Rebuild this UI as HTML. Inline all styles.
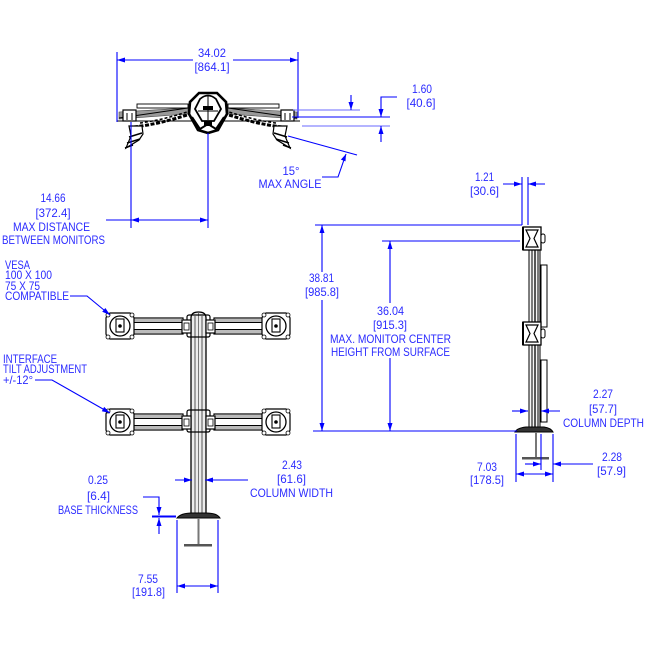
<!DOCTYPE html>
<html><head><meta charset="utf-8"><style>
html,body{margin:0;padding:0;background:#fff;}
svg{display:block;}
text{font-family:"Liberation Sans",sans-serif;font-size:12px;fill:#2b2bff;}
</style></head><body>
<svg width="646" height="646" viewBox="0 0 646 646" xmlns="http://www.w3.org/2000/svg">
<defs>
<g id="head">
 <path d="M-10,-13 h20 l3,2 l1,3 v16 l-1,3 l-3,2 h-20 l-3,-2 l-1,-3 v-16 l1,-3 z" fill="#fff" stroke="#000" stroke-width="1.2"/>
 <circle cx="-12" cy="-11" r="2" fill="#fff" stroke="#000" stroke-width="0.8"/>
 <circle cx="12" cy="-11" r="2" fill="#fff" stroke="#000" stroke-width="0.8"/>
 <circle cx="-12" cy="11" r="2" fill="#fff" stroke="#000" stroke-width="0.8"/>
 <circle cx="12" cy="11" r="2" fill="#fff" stroke="#000" stroke-width="0.8"/>
 <circle r="10" fill="#fff" stroke="#000" stroke-width="1.3"/>
 <rect x="-4" y="-7" width="8" height="13" fill="#fff" stroke="#000" stroke-width="1.1"/>
 <circle r="1.8" fill="#000"/>
</g>
<g id="sidehead">
 <rect x="0" y="0" width="18" height="23" fill="#fff" stroke="#000" stroke-width="1.3"/>
 <path d="M3,3 L15,3 L11,11.5 L15,20 L3,20 L7,11.5 Z" fill="#fff" stroke="#000" stroke-width="1.2"/>
 <rect x="18" y="7" width="4" height="9" rx="2" fill="#fff" stroke="#000"/>
 <line x1="0" y1="0" x2="0" y2="23" stroke="#000" stroke-width="2"/>
</g>
</defs>

<!-- ================= TOP VIEW ================= -->
<g stroke="#000" fill="none">
 <line x1="117" y1="121" x2="300" y2="121" stroke-width="1"/>
 <!-- left monitor -->
 <polygon points="119,112 188,108 188,114 119,119" fill="#999" stroke="#444" stroke-width="0.6"/>
 <rect x="137" y="104" width="51" height="4" fill="#fff" stroke-width="0.9"/>
 <line x1="119" y1="118" x2="188" y2="108" stroke-width="1"/>
 <rect x="123" y="110" width="13" height="11" fill="#fff" stroke-width="1.2"/>
 <line x1="127" y1="113" x2="127" y2="120"/><line x1="132" y1="113" x2="132" y2="120"/>
 <!-- right monitor -->
 <polygon points="297,112 228,108 228,114 297,119" fill="#999" stroke="#444" stroke-width="0.6"/>
 <rect x="228" y="104" width="51" height="4" fill="#fff" stroke-width="0.9"/>
 <line x1="297" y1="118" x2="228" y2="108" stroke-width="1"/>
 <rect x="281" y="110" width="13" height="11" fill="#fff" stroke-width="1.2"/>
 <line x1="285" y1="113" x2="285" y2="120"/><line x1="290" y1="113" x2="290" y2="120"/>
 <!-- dashed arms -->
 <path d="M134,127 Q160,124 190,114" stroke-width="3" stroke-dasharray="4 1.6"/>
 <path d="M140,123 Q163,120 190,111" stroke-width="1.5" stroke-dasharray="3 2"/>
 <path d="M282,127 Q256,124 226,114" stroke-width="3" stroke-dasharray="4 1.6"/>
 <path d="M276,123 Q253,120 226,111" stroke-width="1.5" stroke-dasharray="3 2"/>
 <!-- lower brackets -->
 <polygon points="129,126 142,126 143,134 139,140 126,148 131,136" fill="#fff" stroke-width="1.2"/>
 <path d="M129,137 L142,133 M127,143 L140,139 M125,148 L133,145" stroke-width="1.5"/>
 <polygon points="287,126 274,126 273,134 277,140 290,148 285,136" fill="#fff" stroke-width="1.2"/>
 <path d="M287,137 L274,133 M289,143 L276,139 M291,148 L283,145" stroke-width="1.5"/>
 <!-- hub -->
 <polygon points="199,93 217,93 226,102 227,114 218,130 208,133 198,130 189,114 190,102" fill="#fff" stroke-width="2.6"/>
 <path d="M200,99 Q208,92 216,99 L221,109 L214,121 H202 L195,109 Z" fill="#fff" stroke-width="1.8"/>
 <rect x="203" y="106" width="10" height="4" fill="#000" stroke="none"/>
 <path d="M208,96 V120 M198,111 H218" stroke-width="1"/>
 <path d="M192,117 L200,129 L208,124 L216,129 L224,117" stroke-width="2"/>
 <rect x="204" y="121" width="8" height="5" fill="#000" stroke="none"/>
</g>

<!-- top view dims -->
<g stroke="#0000ff" stroke-width="1.1" fill="none">
 <line x1="117" y1="52" x2="117" y2="122"/>
 <line x1="298" y1="52" x2="298" y2="118"/>
 <line x1="117" y1="60" x2="193" y2="60"/>
 <line x1="233" y1="60" x2="298" y2="60"/>
 <line x1="293" y1="110" x2="360" y2="110" stroke="#6a6aff"/>
 <line x1="292" y1="117" x2="390" y2="117"/>
 <line x1="302" y1="126" x2="390" y2="126" stroke="#6a6aff"/>
 <line x1="351" y1="95" x2="351" y2="110"/>
 <polyline points="397,97 381,97 381,117"/>
 <line x1="381" y1="126" x2="381" y2="142"/>
 <line x1="288" y1="136" x2="357" y2="155"/>
 <polyline points="346,154 338,177 322,177"/>
 <line x1="131" y1="122" x2="131" y2="228"/>
 <line x1="208" y1="133" x2="208" y2="228"/>
 <line x1="106" y1="220" x2="208" y2="220"/>
</g>
<g fill="#0000ff">
 <polygon points="117,60 125,57.5 125,62.5"/>
 <polygon points="298,60 290,57.5 290,62.5"/>
 <polygon points="351,110 348.5,102 353.5,102"/>
 <polygon points="381,117 378.5,109 383.5,109"/>
 <polygon points="381,126 378.5,134 383.5,134"/>
 <polygon points="346,154 345.5,161.4 340.9,159.6"/>
 <polygon points="131,220 139,217.5 139,222.5"/>
 <polygon points="208,220 200,217.5 200,222.5"/>
</g>
<text x="212" y="57" text-anchor="middle" textLength="28" lengthAdjust="spacingAndGlyphs">34.02</text>
<text x="212" y="71" text-anchor="middle" textLength="35" lengthAdjust="spacingAndGlyphs">[864.1]</text>
<text x="422" y="93" text-anchor="middle" textLength="20" lengthAdjust="spacingAndGlyphs">1.60</text>
<text x="421" y="107" text-anchor="middle" textLength="29" lengthAdjust="spacingAndGlyphs">[40.6]</text>
<text x="291" y="175" text-anchor="middle" textLength="17" lengthAdjust="spacingAndGlyphs">15°</text>
<text x="290" y="188" text-anchor="middle" textLength="63" lengthAdjust="spacingAndGlyphs">MAX ANGLE</text>
<text x="53" y="202" text-anchor="middle" textLength="25" lengthAdjust="spacingAndGlyphs">14.66</text>
<text x="53" y="217" text-anchor="middle" textLength="35" lengthAdjust="spacingAndGlyphs">[372.4]</text>
<text x="13" y="231" textLength="77" lengthAdjust="spacingAndGlyphs">MAX DISTANCE</text>
<text x="2" y="244" textLength="103" lengthAdjust="spacingAndGlyphs">BETWEEN MONITORS</text>

<!-- ================= FRONT VIEW ================= -->
<g stroke="#000" stroke-width="1">
 <!-- column -->
 <path d="M191,318 Q191,312 198.5,312 Q206,312 206,318 V515 H191 Z" fill="#ececec" stroke-width="1.3"/>
 <line x1="195" y1="316" x2="195" y2="514" stroke="#555"/>
 <line x1="198.5" y1="313" x2="198.5" y2="514" stroke="#777"/>
 <line x1="202" y1="316" x2="202" y2="514" stroke="#555"/>
 <!-- collars -->
 <rect x="187" y="315" width="23" height="22" rx="2" fill="none" stroke-width="1.2"/>
 <rect x="187" y="410" width="23" height="22" rx="2" fill="none" stroke-width="1.2"/>
</g>
<g id="armrowU" stroke="#000">
 <!-- left arm -->
 <rect x="132" y="318" width="51" height="16" fill="#fff" stroke-width="1.2"/>
 <rect x="132" y="319" width="51" height="3" fill="#bbb" stroke="none"/>
 <rect x="132" y="330" width="51" height="3" fill="#bbb" stroke="none"/>
 <line x1="132" y1="322.5" x2="183" y2="322.5"/>
 <line x1="132" y1="329.5" x2="183" y2="329.5"/>
 <rect x="182" y="320" width="9" height="13" fill="#fff" stroke-width="1.2"/>
 <rect x="184" y="323" width="5" height="7" fill="#fff" stroke-width="0.8"/>
 <!-- right arm -->
 <rect x="214" y="318" width="51" height="16" fill="#fff" stroke-width="1.2"/>
 <rect x="214" y="319" width="51" height="3" fill="#bbb" stroke="none"/>
 <rect x="214" y="330" width="51" height="3" fill="#bbb" stroke="none"/>
 <line x1="214" y1="322.5" x2="265" y2="322.5"/>
 <line x1="214" y1="329.5" x2="265" y2="329.5"/>
 <rect x="206" y="320" width="9" height="13" fill="#fff" stroke-width="1.2"/>
 <rect x="208" y="323" width="5" height="7" fill="#fff" stroke-width="0.8"/>
</g>
<use href="#armrowU" transform="translate(0,96)"/>
<use href="#head" x="120" y="326"/>
<use href="#head" x="276" y="326"/>
<use href="#head" x="120" y="422"/>
<use href="#head" x="276" y="422"/>
<!-- base -->
<path d="M177,518 Q181,513 192,513 H206 Q217,513 220,518 Z" fill="#333" stroke="#000"/>
<line x1="198.5" y1="518" x2="198.5" y2="545" stroke="#777" stroke-width="2"/>
<rect x="184" y="544" width="28" height="2.5" fill="#555"/>

<!-- front dims -->
<g stroke="#0000ff" stroke-width="1.1" fill="none">
 <polyline points="70,296 87,296 110,315"/>
 <polyline points="35,380 52,380 110,413"/>
 <line x1="175" y1="480" x2="192" y2="480"/>
 <line x1="248" y1="480" x2="205" y2="480"/>
 <polyline points="143,497 159,497 159,515"/>
 <line x1="152" y1="516.5" x2="176" y2="516.5" stroke-width="2"/>
 <line x1="159" y1="518" x2="159" y2="534"/>
 <line x1="177" y1="520" x2="177" y2="593"/>
 <line x1="218" y1="520" x2="218" y2="593"/>
 <line x1="177" y1="586" x2="218" y2="586"/>
</g>
<g fill="#0000ff">
 <polygon points="110,315 102.2,311.8 105.4,308"/>
 <polygon points="110,413 101.8,411.3 104.2,406.9"/>
 <polygon points="192,480 184,477.5 184,482.5"/>
 <polygon points="205,480 213,477.5 213,482.5"/>
 <polygon points="159,515 156.5,507 161.5,507"/>
 <polygon points="159,518 156.5,526 161.5,526"/>
 <polygon points="177,586 185,583.5 185,588.5"/>
 <polygon points="218,586 210,583.5 210,588.5"/>
</g>
<text x="5" y="269" textLength="25" lengthAdjust="spacingAndGlyphs">VESA</text>
<text x="5" y="279" textLength="47" lengthAdjust="spacingAndGlyphs">100 X 100</text>
<text x="5" y="290" textLength="35" lengthAdjust="spacingAndGlyphs">75 X 75</text>
<text x="5" y="300" textLength="64" lengthAdjust="spacingAndGlyphs">COMPATIBLE</text>
<text x="3" y="363" textLength="54" lengthAdjust="spacingAndGlyphs">INTERFACE</text>
<text x="3" y="373" textLength="84" lengthAdjust="spacingAndGlyphs">TILT ADJUSTMENT</text>
<text x="3" y="384" textLength="30" lengthAdjust="spacingAndGlyphs">+/-12°</text>
<text x="292" y="469" text-anchor="middle" textLength="20" lengthAdjust="spacingAndGlyphs">2.43</text>
<text x="291.5" y="483" text-anchor="middle" textLength="29" lengthAdjust="spacingAndGlyphs">[61.6]</text>
<text x="291.5" y="497" text-anchor="middle" textLength="83" lengthAdjust="spacingAndGlyphs">COLUMN WIDTH</text>
<text x="98" y="484" text-anchor="middle" textLength="20" lengthAdjust="spacingAndGlyphs">0.25</text>
<text x="98.5" y="500" text-anchor="middle" textLength="23" lengthAdjust="spacingAndGlyphs">[6.4]</text>
<text x="98" y="514" text-anchor="middle" textLength="80" lengthAdjust="spacingAndGlyphs">BASE THICKNESS</text>
<text x="148" y="583" text-anchor="middle" textLength="20" lengthAdjust="spacingAndGlyphs">7.55</text>
<text x="148.5" y="596" text-anchor="middle" textLength="33" lengthAdjust="spacingAndGlyphs">[191.8]</text>

<!-- ================= SIDE VIEW ================= -->
<g stroke="#000" fill="none">
 <rect x="529" y="228" width="11" height="200" fill="#f4f4f4" stroke-width="1"/>
 <line x1="532" y1="250" x2="532" y2="428"/>
 <line x1="535" y1="250" x2="535" y2="428" stroke-width="1.3"/>
 <line x1="538" y1="250" x2="538" y2="428"/>
 <rect x="541" y="265" width="6" height="62" fill="#fff" stroke-width="1"/>
 <rect x="541" y="360" width="6" height="62" fill="#fff" stroke-width="1"/>
</g>
<use href="#sidehead" x="523" y="227"/>
<use href="#sidehead" x="523" y="322"/>
<path d="M515,432 Q517,428 526,427 H544 Q551,428 553,432 Z" fill="#333" stroke="#000"/>
<line x1="536" y1="432" x2="536" y2="458" stroke="#777" stroke-width="2"/>
<rect x="522" y="457" width="27" height="2.5" fill="#555"/>

<g stroke="#0000ff" stroke-width="1.1" fill="none">
 <line x1="522" y1="177" x2="522" y2="225"/>
 <line x1="528" y1="177" x2="528" y2="225"/>
 <line x1="503" y1="184" x2="522" y2="184"/>
 <line x1="545" y1="184" x2="528" y2="184"/>
 <line x1="315" y1="225" x2="522" y2="225"/>
 <line x1="322" y1="225" x2="322" y2="272"/>
 <line x1="322" y1="300" x2="322" y2="431"/>
 <line x1="382" y1="241" x2="520" y2="241"/>
 <line x1="390" y1="241" x2="390" y2="303"/>
 <line x1="390" y1="358" x2="390" y2="431"/>
 <line x1="313" y1="431" x2="517" y2="431"/>
 <line x1="512" y1="411" x2="528" y2="411"/>
 <line x1="560" y1="411" x2="541" y2="411"/>
 <line x1="516" y1="434" x2="516" y2="482"/>
 <line x1="553" y1="434" x2="553" y2="482"/>
 <line x1="541" y1="434" x2="541" y2="470"/>
 <line x1="516" y1="474" x2="553" y2="474"/>
 <line x1="525" y1="464" x2="541" y2="464"/>
 <line x1="593" y1="464" x2="553" y2="464"/>
</g>
<g fill="#0000ff">
 <polygon points="522,184 514,181.5 514,186.5"/>
 <polygon points="528,184 536,181.5 536,186.5"/>
 <polygon points="322,225 319.5,233 324.5,233"/>
 <polygon points="322,431 319.5,423 324.5,423"/>
 <polygon points="390,241 387.5,249 392.5,249"/>
 <polygon points="390,431 387.5,423 392.5,423"/>
 <polygon points="528,411 520,408.5 520,413.5"/>
 <polygon points="541,411 549,408.5 549,413.5"/>
 <polygon points="516,474 524,471.5 524,476.5"/>
 <polygon points="553,474 545,471.5 545,476.5"/>
 <polygon points="541,464 533,461.5 533,466.5"/>
 <polygon points="553,464 561,461.5 561,466.5"/>
</g>
<text x="484.5" y="181" text-anchor="middle" textLength="19" lengthAdjust="spacingAndGlyphs">1.21</text>
<text x="484.5" y="195" text-anchor="middle" textLength="29" lengthAdjust="spacingAndGlyphs">[30.6]</text>
<text x="321.5" y="282" text-anchor="middle" textLength="25" lengthAdjust="spacingAndGlyphs">38.81</text>
<text x="322" y="296" text-anchor="middle" textLength="34" lengthAdjust="spacingAndGlyphs">[985.8]</text>
<text x="390.5" y="315" text-anchor="middle" textLength="27" lengthAdjust="spacingAndGlyphs">36.04</text>
<text x="390" y="329" text-anchor="middle" textLength="34" lengthAdjust="spacingAndGlyphs">[915.3]</text>
<text x="390.5" y="343" text-anchor="middle" textLength="121" lengthAdjust="spacingAndGlyphs">MAX. MONITOR CENTER</text>
<text x="390.5" y="356" text-anchor="middle" textLength="119" lengthAdjust="spacingAndGlyphs">HEIGHT FROM SURFACE</text>
<text x="603" y="398" text-anchor="middle" textLength="20" lengthAdjust="spacingAndGlyphs">2.27</text>
<text x="603" y="413" text-anchor="middle" textLength="28" lengthAdjust="spacingAndGlyphs">[57.7]</text>
<text x="603.5" y="427" text-anchor="middle" textLength="81" lengthAdjust="spacingAndGlyphs">COLUMN DEPTH</text>
<text x="487" y="471" text-anchor="middle" textLength="20" lengthAdjust="spacingAndGlyphs">7.03</text>
<text x="487" y="484" text-anchor="middle" textLength="34" lengthAdjust="spacingAndGlyphs">[178.5]</text>
<text x="612" y="461" text-anchor="middle" textLength="20" lengthAdjust="spacingAndGlyphs">2.28</text>
<text x="611.5" y="475" text-anchor="middle" textLength="29" lengthAdjust="spacingAndGlyphs">[57.9]</text>
</svg>
</body></html>
